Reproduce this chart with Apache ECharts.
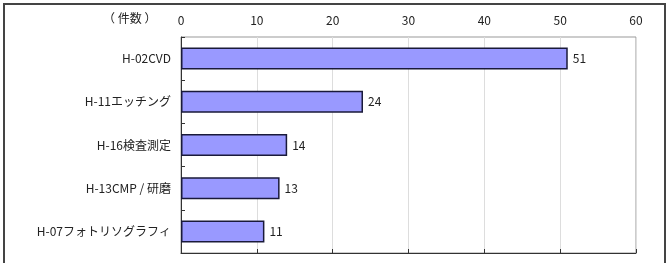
<!DOCTYPE html>
<html>
<head>
<meta charset="utf-8">
<script src="https://cdn.jsdelivr.net/npm/echarts@6/dist/echarts.min.js"></script>
<style>
  html, body { margin: 0; padding: 0; background: #fff; }
  #chart { width: 669px; height: 263px; }
</style>
</head>
<body>
<div id="chart"></div>
<script>
// data
const categories = ['H-02CVD', 'H-11エッチング', 'H-16検査測定', 'H-13CMP / 研磨', 'H-07フォトリソグラフィ'];
const counts = [51, 24, 14, 13, 11];
const unitLabel = '（ 件数 ）';
const axisMin = 0;
const axisMax = 60;
const axisStep = 10;

const font = '"Noto Sans CJK JP", "Noto Sans", sans-serif';

const chart = echarts.init(document.getElementById('chart'));

const option = {
  animation: false,
  backgroundColor: '#fff',
  textStyle: { fontFamily: font },
  grid: {
    left: 181,
    right: 33,
    top: 37,
    bottom: 10,
    show: true,
    borderColor: '#999',
    borderWidth: 1
  },
  graphic: [
    {
      type: 'rect',
      shape: { x: 4, y: 4, width: 661, height: 275 },
      style: { fill: 'none', stroke: '#444', lineWidth: 2 }
    },
    {
      type: 'text',
      left: 103,
      top: 12,
      style: { text: unitLabel, fontSize: 12, fill: '#222', fontFamily: font }
    }
  ],
  xAxis: [
    {
      type: 'value',
      position: 'top',
      min: axisMin,
      max: axisMax,
      interval: axisStep,
      axisLine: { show: false },
      axisTick: { show: false },
      axisLabel: { color: '#222', fontSize: 12, margin: 11 },
      splitLine: { show: true, lineStyle: { color: '#ddd', width: 1 } }
    },
    {
      type: 'value',
      position: 'bottom',
      min: axisMin,
      max: axisMax,
      interval: axisStep,
      axisLine: { show: true, lineStyle: { color: '#333', width: 1 } },
      axisTick: { show: true, inside: true, length: 4, lineStyle: { color: '#333' } },
      axisLabel: { show: false },
      splitLine: { show: false }
    }
  ],
  yAxis: {
    type: 'category',
    data: categories,
    inverse: true,
    axisLine: { show: true, lineStyle: { color: '#333', width: 1 } },
    axisTick: { show: true, inside: true, length: 4, lineStyle: { color: '#333' } },
    axisLabel: { color: '#222', fontSize: 12, margin: 10 }
  },
  series: [
    {
      type: 'bar',
      xAxisIndex: 0,
      data: counts,
      barWidth: 22,
      itemStyle: { color: '#9999ff', borderColor: '#1a1a3a', borderWidth: 1.5 },
      label: {
        show: true,
        position: 'right',
        distance: 5,
        color: '#222',
        fontSize: 12
      }
    }
  ]
};

chart.setOption(option);
</script>
</body>
</html>
